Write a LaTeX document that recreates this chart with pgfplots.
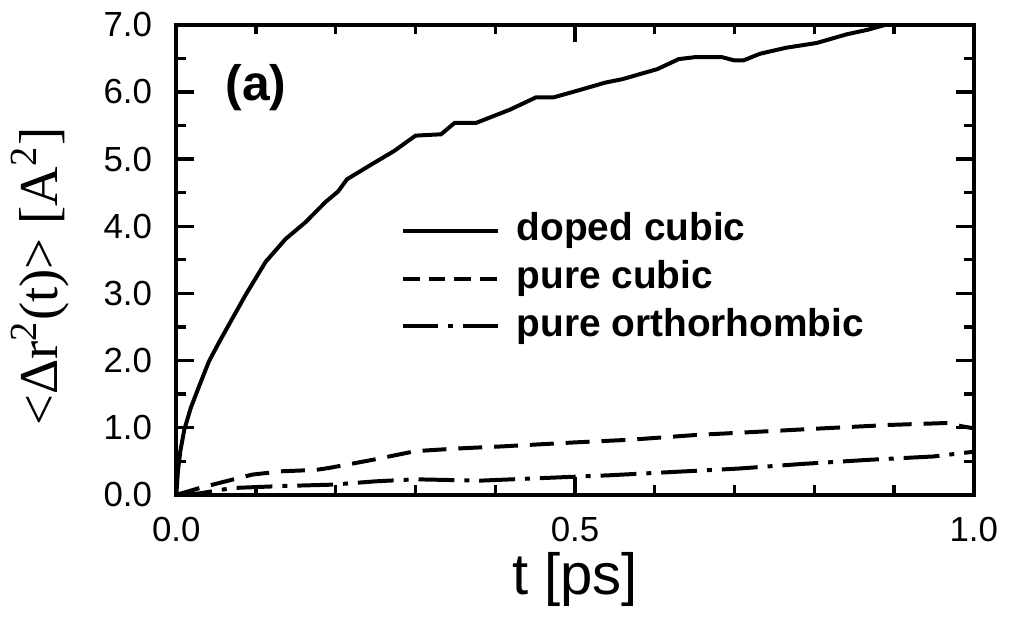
\documentclass[border=0pt]{standalone}
\usepackage{fontspec}
\setmainfont{Liberation Sans}
\newfontfamily\serifl{Liberation Serif}
\usepackage{pgfplots}
\pgfplotsset{compat=1.18}
\pgfplotsset{
  lineleg/.style={legend image code/.code={\draw[##1] (0pt,0pt) -- (28.8pt,0pt);}},
  dashleg/.style={legend image code/.code={\draw[##1, dash pattern=on 5.1pt off 2.7pt] (0pt,0pt) -- (28.8pt,0pt);}},
}
\begin{document}
\begin{tikzpicture}
\begin{axis}[
  scale only axis,
  width=240.3pt, height=141.6pt,
  xmin=0, xmax=1, ymin=0, ymax=7,
  axis line style={line width=1.2pt},
  every tick/.style={black, line width=1pt},
  major tick length=5.2pt, minor tick length=2.8pt,
  tick align=inside,
  xtick={0,0.5,1}, minor xtick={0.1,0.2,0.3,0.4,0.6,0.7,0.8,0.9},
  ytick={0,1,...,7}, minor ytick={0.5,1.5,...,6.5},
  /pgf/number format/assume math mode=true,
  /pgf/number format/.cd, fixed, fixed zerofill, precision=1, /pgfplots/.cd,
  ticklabel style={font=\fontsize{10.5}{12}\selectfont},
  yticklabel style={xshift=-3.8pt},
  xticklabel style={yshift=-3.2pt},
  xlabel={t [ps]},
  xlabel style={font=\fontsize{17.5}{20}\selectfont, at={(axis description cs:0.5,-0.18)}, anchor=center},
  ylabel={\serifl <Δr\textsuperscript{2}(t)> [A\textsuperscript{2}]},
  ylabel style={font=\fontsize{16.5}{20}\selectfont, at={(axis description cs:-0.171,0.464)}, anchor=center},
  legend style={draw=none, fill=none, at={(axis description cs:0.268,0.623)}, anchor=north west,
    font=\bfseries\fontsize{11.7}{14}\selectfont, row sep=1.4pt,
    nodes={inner sep=1pt, text height=8.5pt, text depth=2.5pt},
    /tikz/every odd column/.append style={column sep=4pt}},
  legend cell align=left,
  clip=true,
]
\addplot[black, line width=1.2pt, lineleg] coordinates {
(0,0) (0.002,0.35) (0.005,0.65) (0.01,0.97) (0.018,1.29) (0.029,1.63) (0.041,1.99)
(0.054,2.28) (0.07,2.62) (0.087,2.98) (0.112,3.47) (0.137,3.81) (0.162,4.06)
(0.187,4.36) (0.203,4.52) (0.214,4.70) (0.246,4.93) (0.273,5.12) (0.300,5.35)
(0.332,5.37) (0.349,5.54) (0.376,5.54) (0.419,5.74) (0.451,5.92) (0.473,5.92)
(0.5,6.01) (0.538,6.14) (0.559,6.19) (0.603,6.34) (0.630,6.49) (0.651,6.52)
(0.684,6.52) (0.700,6.47) (0.711,6.47) (0.732,6.57) (0.765,6.66) (0.803,6.73)
(0.841,6.86) (0.868,6.93) (0.889,7.0) (0.91,7.05)
};
\addlegendentry{doped cubic}
\addplot[black, line width=1.2pt, dash pattern=on 7.2pt off 3.6pt, dashleg] coordinates {
(0,0) (0.015,0.05) (0.029,0.10) (0.062,0.20) (0.095,0.30) (0.133,0.35) (0.175,0.37)
(0.192,0.40) (0.246,0.52) (0.300,0.65) (0.354,0.69) (0.408,0.72) (0.5,0.78)
(0.570,0.82) (0.651,0.89) (0.732,0.94) (0.812,0.99) (0.894,1.04) (0.969,1.07)
(0.985,1.02) (1.0,0.99)
};
\addlegendentry{pure cubic}
\addplot[black, line width=1.2pt, dash pattern=on 10.8pt off 3pt on 1.5pt off 3pt, lineleg] coordinates {
(0,0) (0.029,0.02) (0.07,0.10) (0.133,0.13) (0.195,0.15) (0.25,0.20) (0.3,0.23)
(0.381,0.21) (0.462,0.25) (0.543,0.29) (0.624,0.34) (0.705,0.39) (0.786,0.46)
(0.868,0.52) (0.949,0.57) (0.985,0.62) (1.0,0.64)
};
\addlegendentry{pure orthorhombic}
\node[font=\bfseries\fontsize{15}{18}\selectfont] at (axis description cs:0.1,0.866) {(a)};
\coordinate (bl) at (axis description cs:-0.22097,-0.23729);
\coordinate (tr) at (axis description cs:1.0387,1.05297);
\end{axis}
\path (bl) rectangle (tr);
\end{tikzpicture}
\end{document}
